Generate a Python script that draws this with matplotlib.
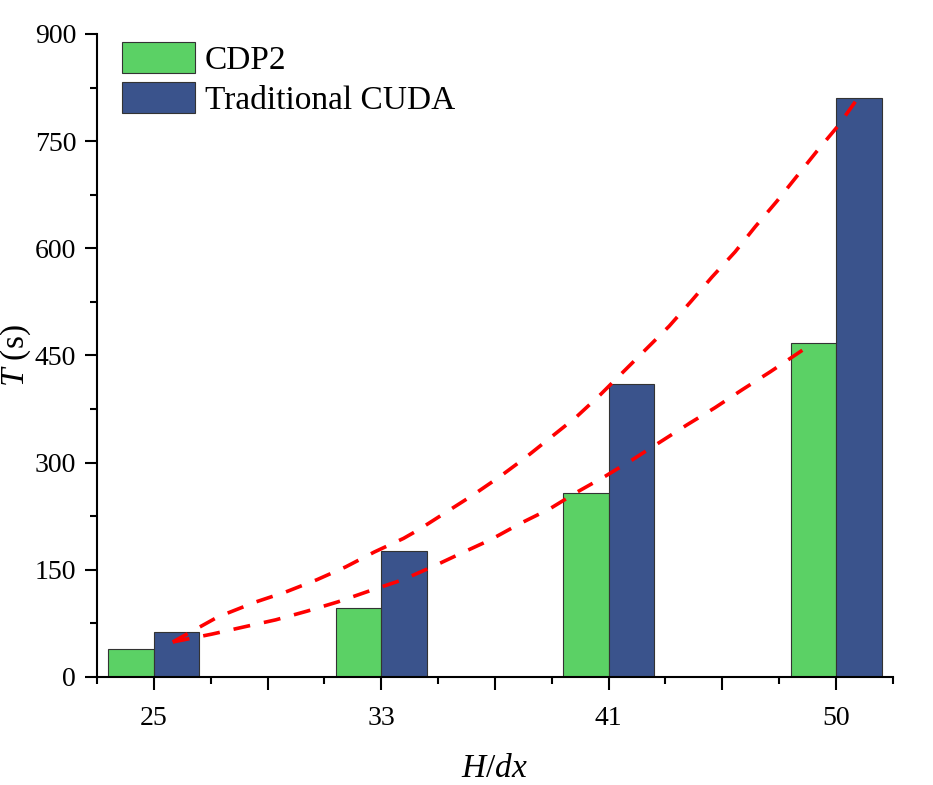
import matplotlib
matplotlib.use("Agg")
import matplotlib.pyplot as plt
import numpy as np

plt.rcParams['font.family'] = ['Liberation Serif', 'DejaVu Serif']
plt.rcParams['mathtext.fontset'] = 'custom'
plt.rcParams['mathtext.rm'] = 'Liberation Serif'
plt.rcParams['mathtext.it'] = 'Liberation Serif:italic'

# Data
categories = ['25', '33', '41', '50']
cdp2 = [39, 97, 257, 467]
cuda = [63, 176, 410, 810]

upper_x = [0.083, 0.281, 0.448, 0.58, 0.716, 0.843, 0.97, 1.098, 1.164, 1.405, 1.524,
           1.634, 1.748, 1.858, 1.963, 2.165, 2.266, 2.363, 2.455, 2.556, 2.644, 2.74,
           2.828, 2.916, 3.008, 3.10]
upper_y = [49, 84, 105, 119, 136, 154, 175, 194, 206, 255, 281,
           307, 336, 364, 395, 459, 491, 526, 560, 595, 630, 666,
           701, 736, 771, 812]
lower_x = [0.083, 0.255, 0.395, 0.536, 0.672, 0.808, 0.962, 1.094, 1.23, 1.357, 1.48,
           1.612, 1.739, 1.862, 1.985, 2.104, 2.345, 2.468, 2.587, 2.71, 2.855]
lower_y = [49, 60, 70, 80, 92, 105, 122, 136, 155, 174, 192,
           215, 235, 259, 281, 304, 353, 377, 402, 427, 458]

green = '#5BD165'
blue = '#3A538C'

fig = plt.figure(figsize=(9.33, 7.85), dpi=100)
ax = fig.add_axes([0.104, 0.1376, 0.853, 0.8191])

x = np.arange(len(categories))
w = 0.2
ax.bar(x - w/2, cdp2, width=w, color=green, edgecolor='#333333', linewidth=0.8, label='CDP2', zorder=2)
ax.bar(x + w/2, cuda, width=w, color=blue, edgecolor='#333333', linewidth=0.8, label='Traditional CUDA', zorder=2)

ax.plot(upper_x, upper_y, color='#FF0000', lw=2.6, linestyle=(0, (4.7, 3.9)), zorder=3)
ax.plot(lower_x, lower_y, color='#FF0000', lw=2.6, linestyle=(0, (4.7, 3.9)), zorder=3)

ax.set_xlim(-0.25, 3.25)
ax.set_ylim(0, 900)

major_x = np.arange(0, 3.01, 0.5)
major_labels = []
for v in major_x:
    if abs(v - round(v)) < 1e-9:
        major_labels.append(categories[int(round(v))])
    else:
        major_labels.append('')
ax.set_xticks(major_x)
ax.set_xticklabels(major_labels)
ax.set_xticks(np.arange(-0.25, 3.26, 0.5), minor=True)

ax.set_yticks(np.arange(0, 901, 150))
ax.set_yticks(np.arange(0, 901, 75), minor=True)

for s in ['top', 'right']:
    ax.spines[s].set_visible(False)
for s in ['left', 'bottom']:
    ax.spines[s].set_linewidth(1.5)

ax.tick_params(axis='both', which='major', direction='out', length=9, width=1.5, labelsize=20)
ax.tick_params(axis='both', which='minor', direction='out', length=5, width=1.5)
ax.tick_params(axis='x', which='major', pad=12)
ax.tick_params(axis='y', which='major', pad=6)

ax.set_xlabel(r'$H/dx$', fontsize=24, labelpad=16)
ax.set_ylabel(r'$T$ (s)', fontsize=24)
ax.yaxis.set_label_coords(-0.080, 0.5)

ax.legend(loc='upper left', bbox_to_anchor=(0.031, 0.988), frameon=False, fontsize=24,
          handlelength=2.2, handleheight=1.05, labelspacing=0.2, handletextpad=0.3,
          borderpad=0, borderaxespad=0)

fig.savefig('out.png', dpi=100)
